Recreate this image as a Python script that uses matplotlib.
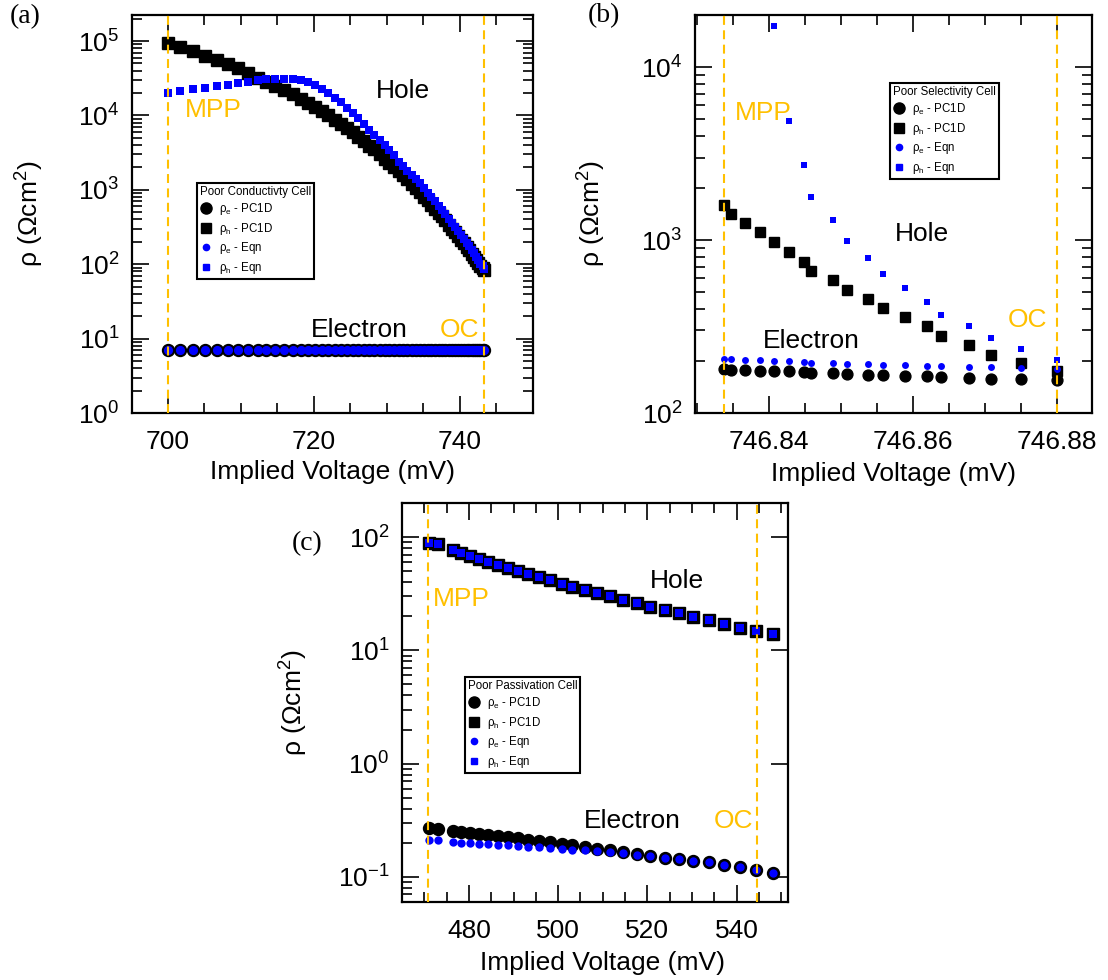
import matplotlib
matplotlib.use('Agg')
import matplotlib.pyplot as plt
from matplotlib.lines import Line2D
from matplotlib.ticker import MultipleLocator, LogLocator, FormatStrFormatter, NullFormatter

plt.rcParams['font.family'] = 'Liberation Sans'
plt.rcParams['mathtext.fontset'] = 'custom'
plt.rcParams['mathtext.rm'] = 'Liberation Sans'
plt.rcParams['mathtext.it'] = 'Liberation Sans:italic'
plt.rcParams['mathtext.bf'] = 'Liberation Sans:bold'

AZUL = '#0000FF'
ORO = '#FFC000'

# (a) celda de baja conductividad
v_a = [700.0, 701.7, 703.4, 705.1, 706.7, 708.2, 709.6, 711.0, 712.3, 713.5,
       714.7, 715.9, 717.1, 718.2, 719.2, 720.2, 721.1, 722.0, 722.9, 723.7,
       724.5, 725.3, 726.1, 726.9, 727.6, 728.3, 729.0, 729.7, 730.3, 731.0,
       731.6, 732.2, 732.8, 733.4, 734.0, 734.5, 735.1, 735.6, 736.1, 736.6,
       737.1, 737.6, 738.0, 738.5, 738.9, 739.3, 739.7, 740.1, 740.5, 740.9,
       741.2, 741.6, 741.9, 742.2, 742.5, 742.8, 743.1, 743.3]
rho_h_pc_a = [9.5e4, 8.2e4, 7.3e4, 6.3e4, 5.6e4, 4.9e4, 4.3e4, 3.75e4, 3.2e4, 2.84e4,
              2.48e4, 2.19e4, 1.92e4, 1.68e4, 1.48e4, 1.30e4, 1.15e4, 1.0e4, 8700, 7600,
              6700, 5900, 5100, 4500, 3900, 3500, 3000, 2600, 2300, 2000,
              1800, 1570, 1380, 1200, 1050, 930, 810, 720, 630, 560,
              490, 440, 390, 340, 300, 270, 240, 214, 190, 170,
              155, 138, 126, 115, 105, 95, 89, 84]
rho_h_eq_a = [2.0e4, 2.15e4, 2.25e4, 2.35e4, 2.45e4, 2.6e4, 2.7e4, 2.8e4, 2.95e4, 3.05e4,
              3.1e4, 3.1e4, 3.05e4, 2.95e4, 2.8e4, 2.6e4, 2.25e4, 1.98e4, 1.72e4, 1.50e4,
              1.26e4, 1.07e4, 9100, 7700, 6400, 5500, 4700, 4000, 3400, 2900,
              2400, 2100, 1800, 1600, 1400, 1220, 1050, 920, 800, 705,
              610, 540, 475, 410, 360, 318, 280, 248, 218, 194,
              175, 154, 140, 126, 114, 102, 94, 87]
rho_e_pc_a = [7.0, 7.0, 7.0, 7.0, 7.0, 7.0, 7.0, 7.0, 7.0, 7.0,
              7.0, 7.0, 7.0, 7.0, 7.0, 7.0, 7.0, 7.0, 7.0, 7.0,
              7.0, 7.0, 7.0, 7.0, 7.0, 7.0, 7.0, 7.0, 7.0, 7.0,
              7.0, 7.0, 7.0, 7.0, 7.0, 7.0, 7.0, 7.0, 7.0, 7.0,
              7.0, 7.0, 7.0, 7.0, 7.0, 7.0, 7.0, 7.0, 7.0, 7.0,
              7.0, 7.0, 7.0, 7.0, 7.0, 7.0, 7.0, 7.0]
rho_e_eq_a = rho_e_pc_a
mpp_a, oc_a = 700.0, 743.3

# (b) celda de baja selectividad
v_b = [746.8337, 746.8347, 746.8367, 746.8388, 746.8407, 746.8428, 746.8449, 746.8458,
       746.8489, 746.8508, 746.8538, 746.8559, 746.8589, 746.8619, 746.8639, 746.8678,
       746.8708, 746.8750, 746.8800]
rho_h_pc_b = [1600, 1410, 1250, 1110, 970, 855, 750, 665, 588, 516, 456, 403, 357, 317,
              277, 247, 217, 194, 176]
rho_e_pc_b = [180, 178, 177, 176, 175, 174, 172, 171, 170, 168, 166, 165, 164, 163,
              162, 159, 158, 157, 156]
rho_e_eq_b = [205, 205, 203, 202, 200, 199, 196, 195, 194, 193, 191, 190, 189, 188,
              186, 185, 184, 182, 180]
# los primeros cuatro puntos de la ecuacion quedan por encima del eje
v_h_eq_b = v_b[4:]
rho_h_eq_b = [17200, 4850, 2720, 1770, 1300, 983, 783, 635, 526, 436, 370, 317, 270, 234, 202]
mpp_b, oc_b = 746.8337, 746.8800

# (c) celda de baja pasivacion
v_c = [471.1, 473.0, 476.35, 478.2, 480.2, 482.3, 484.3, 486.6, 488.7, 490.9,
       493.3, 495.7, 498.1, 500.8, 503.2, 506.0, 508.8, 511.6, 514.6, 517.6,
       520.6, 523.9, 527.1, 530.2, 533.8, 537.2, 540.7, 544.4, 548.2]
rho_h_pc_c = [87.8, 86.1, 76.2, 72.7, 68.7, 64.6, 60.8, 56.8, 53.4, 50.2,
              46.8, 44.0, 41.4, 38.5, 36.2, 34.0, 32.0, 29.9, 28.1, 26.1,
              24.3, 22.7, 21.2, 19.8, 18.5, 17.1, 15.9, 14.8, 13.9]
rho_h_eq_c = rho_h_pc_c
rho_e_pc_c = [0.272, 0.263, 0.254, 0.249, 0.244, 0.239, 0.234, 0.230, 0.225, 0.219,
              0.213, 0.207, 0.202, 0.197, 0.190, 0.184, 0.178, 0.171, 0.165, 0.158,
              0.154, 0.148, 0.144, 0.138, 0.134, 0.127, 0.122, 0.114, 0.108]
rho_e_eq_c = [0.210, 0.210, 0.202, 0.199, 0.198, 0.195, 0.194, 0.191, 0.190, 0.187,
              0.185, 0.182, 0.180, 0.177, 0.174, 0.171, 0.168, 0.165, 0.162, 0.157,
              0.154, 0.148, 0.144, 0.138, 0.134, 0.127, 0.122, 0.114, 0.108]
mpp_c, oc_c = 470.9, 544.6

FS = 19

fig = plt.figure(figsize=(11.08, 9.8), dpi=100)


def ejes(rect, xlim, ylim, xmaj, xmin, xfmt, minor_right=True):
    ax = fig.add_axes(rect)
    ax.set_yscale('log')
    ax.set_xlim(*xlim)
    ax.set_ylim(*ylim)
    ax.xaxis.set_major_locator(MultipleLocator(xmaj))
    ax.xaxis.set_minor_locator(MultipleLocator(xmin))
    ax.xaxis.set_major_formatter(FormatStrFormatter(xfmt))
    ax.yaxis.set_major_locator(LogLocator(base=10, numticks=20))
    ax.yaxis.set_minor_locator(LogLocator(base=10, subs=range(2, 10), numticks=20))
    ax.yaxis.set_minor_formatter(NullFormatter())
    ax.tick_params(which='both', direction='in', top=True, right=True, width=1.2,
                   labelsize=FS)
    ax.tick_params(which='major', length=12, pad=9)
    ax.tick_params(which='major', axis='x', pad=12)
    ax.tick_params(which='minor', length=7)
    if not minor_right:
        ax.tick_params(which='minor', axis='y', right=False)
    for s in ax.spines.values():
        s.set_linewidth(1.6)
    return ax


def marcas(ax, mpp, oc):
    for v in (mpp, oc):
        ax.axvline(v, color=ORO, ls=(0, (4.3, 2.6)), lw=1.5, zorder=6)


def leyenda(ax, titulo, pos, tam):
    s_ek, s_hk, s_eb, s_hb = tam
    h = [Line2D([], [], ls='none', marker='o', ms=s_ek, mfc='k', mec='k'),
         Line2D([], [], ls='none', marker='s', ms=s_hk, mfc='k', mec='k'),
         Line2D([], [], ls='none', marker='o', ms=s_eb, mfc=AZUL, mec=AZUL),
         Line2D([], [], ls='none', marker='s', ms=s_hb, mfc=AZUL, mec=AZUL)]
    etiquetas = [r'ρ$_\mathrm{e}$ - PC1D', r'ρ$_\mathrm{h}$ - PC1D',
                 r'ρ$_\mathrm{e}$ - Eqn', r'ρ$_\mathrm{h}$ - Eqn']
    leg = ax.legend(h, etiquetas, title=titulo, loc='upper left', bbox_to_anchor=pos,
                    borderaxespad=0, fontsize=8.3, title_fontsize=8.3, frameon=True,
                    fancybox=False, edgecolor='k', framealpha=1, alignment='left',
                    handlelength=1.1, handletextpad=0.6, labelspacing=0.3,
                    borderpad=0.25)
    leg.get_frame().set_linewidth(1.5)
    leg.set_zorder(10)


def etiquetas_ejes(ax, xl, yl):
    ax.set_xlabel('Implied Voltage (mV)', fontsize=FS)
    ax.set_ylabel(r'ρ (Ωcm$^2$)', fontsize=FS)
    ax.xaxis.set_label_coords(*xl)
    ax.yaxis.set_label_coords(*yl)


# ---- (a)
ax = ejes([132 / 1108, 1 - 413 / 980, 401 / 1108, 398 / 980], (695.1, 750.0), (1, 2.24e5),
          20, 5, '%d')
ax.plot(v_a, rho_h_pc_a, 's', color='k', ms=8.2, zorder=2)
ax.plot(v_a, rho_e_pc_a, 'o', color='k', ms=8.6, zorder=2)
ax.plot(v_a, rho_h_eq_a, 's', color=AZUL, ms=5.6, mew=0, zorder=3)
ax.plot(v_a, rho_e_eq_a, 'o', color=AZUL, ms=6.6, mew=0, zorder=3)
marcas(ax, mpp_a, oc_a)
ax.text(732.2, 2.1e4, 'Hole', fontsize=FS, ha='center', va='center')
ax.text(706.3, 1.2e4, 'MPP', fontsize=FS, ha='center', va='center', color=ORO)
ax.text(726.2, 13, 'Electron', fontsize=FS, ha='center', va='center')
ax.text(740.0, 13, 'OC', fontsize=FS, ha='center', va='center', color=ORO)
leyenda(ax, 'Poor Conductivty Cell', (0.162, 0.578), (8, 7.5, 4.5, 4.3))
etiquetas_ejes(ax, (0.501, -0.118), (-0.214, 0.5))
fig.text(10 / 1108, 1 - 17 / 980, '(a)', family='Liberation Serif', fontsize=20, va='center')

# ---- (b)
ax = ejes([695 / 1108, 1 - 413 / 980, 397 / 1108, 398 / 980], (746.8297, 746.8849),
          (100, 2e4), 0.02, 0.005, '%.2f')
ax.plot(v_b, rho_h_pc_b, 's', color='k', ms=7.8, zorder=2)
ax.plot(v_b, rho_e_pc_b, 'o', color='k', ms=7.8, zorder=2)
ax.plot(v_h_eq_b, rho_h_eq_b, 's', color=AZUL, ms=4.6, mew=0, zorder=3)
ax.plot(v_b, rho_e_eq_b, 'o', color=AZUL, ms=5.0, mew=0, zorder=3)
marcas(ax, mpp_b, oc_b)
ax.text(746.8613, 1080, 'Hole', fontsize=FS, ha='center', va='center')
ax.text(746.8392, 5400, 'MPP', fontsize=FS, ha='center', va='center', color=ORO)
ax.text(746.8459, 262, 'Electron', fontsize=FS, ha='center', va='center')
ax.text(746.8759, 345, 'OC', fontsize=FS, ha='center', va='center', color=ORO)
leyenda(ax, 'Poor Selectivity Cell', (0.491, 0.829), (8, 7.5, 4.5, 4.3))
etiquetas_ejes(ax, (0.5, -0.122), (-0.219, 0.5))
fig.text(588 / 1108, 1 - 16 / 980, '(b)', family='Liberation Serif', fontsize=20, va='center')

# ---- (c)
ax = ejes([402 / 1108, 1 - 902 / 980, 386 / 1108, 399 / 980], (465.0, 551.5), (0.06, 200),
          20, 5, '%d', minor_right=False)
ax.plot(v_c, rho_h_pc_c, 's', color='k', ms=8.6, zorder=2)
ax.plot(v_c, rho_e_pc_c, 'o', color='k', ms=8.6, zorder=2)
ax.plot(v_c, rho_h_eq_c, 's', color=AZUL, ms=6.4, mew=0, zorder=3)
ax.plot(v_c, rho_e_eq_c, 'o', color=AZUL, ms=6.0, mew=0, zorder=3)
marcas(ax, mpp_c, oc_c)
ax.text(526.5, 41, 'Hole', fontsize=FS, ha='center', va='center')
ax.text(478.4, 28.5, 'MPP', fontsize=FS, ha='center', va='center', color=ORO)
ax.text(516.6, 0.31, 'Electron', fontsize=FS, ha='center', va='center')
ax.text(539.2, 0.31, 'OC', fontsize=FS, ha='center', va='center', color=ORO)
leyenda(ax, 'Poor Passivation Cell', (0.163, 0.564), (8, 7.5, 4.5, 4.3))
etiquetas_ejes(ax, (0.52, -0.122), (-0.238, 0.5))
fig.text(292 / 1108, 1 - 544 / 980, '(c)', family='Liberation Serif', fontsize=20, va='center')

fig.savefig('out.png', dpi=100)
